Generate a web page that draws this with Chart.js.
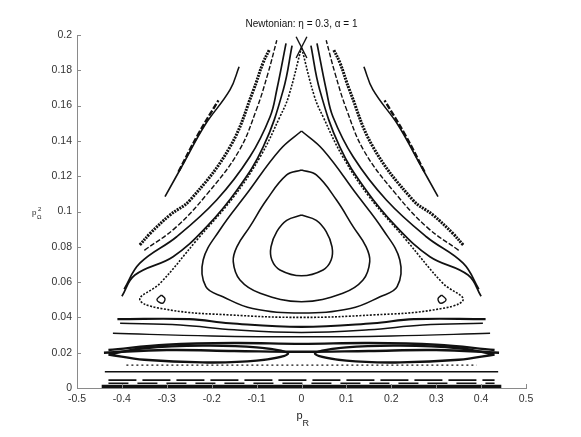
<!DOCTYPE html>
<html>
<head>
<meta charset="utf-8">
<script src="https://cdn.jsdelivr.net/npm/chart.js@4.4.1/dist/chart.umd.min.js"></script>
<style>
  html, body { margin: 0; padding: 0; background: #fff; }
  canvas { display: block; }
</style>
</head>
<body>
<canvas id="chart" width="581" height="437"></canvas>
<script>
// axis ticks
const xTicks = [-0.5, -0.4, -0.3, -0.2, -0.1, 0, 0.1, 0.2, 0.3, 0.4, 0.5];
const yTicks = [0, 0.02, 0.04, 0.06, 0.08, 0.1, 0.12, 0.14, 0.16, 0.18, 0.2];

// closed orbits around the centre (pR, pOmega^2)
const loop1 = [[0, 0.098], [-0.033, 0.095], [-0.055, 0.0886], [-0.068, 0.080], [-0.066, 0.0725], [-0.048, 0.0669], [0, 0.0636],
  [0.048, 0.0669], [0.066, 0.0725], [0.068, 0.080], [0.055, 0.0886], [0.033, 0.095], [0, 0.098]];
const loop2 = [[0, 0.1235], [-0.033, 0.1207], [-0.078, 0.1065], [-0.115, 0.0914], [-0.144, 0.080], [-0.152, 0.0716], [-0.137, 0.0612], [-0.092, 0.0537], [0, 0.0489],
  [0.092, 0.0537], [0.137, 0.0612], [0.152, 0.0716], [0.144, 0.080], [0.115, 0.0914], [0.078, 0.1065], [0.033, 0.1207], [0, 0.1235]];
const loop3 = [[0, 0.1456], [-0.048, 0.135], [-0.122, 0.110], [-0.182, 0.0895], [-0.219, 0.0725], [-0.213, 0.0574], [-0.175, 0.0517], [-0.109, 0.045], [0, 0.0425],
  [0.109, 0.045], [0.175, 0.0517], [0.213, 0.0574], [0.219, 0.0725], [0.182, 0.0895], [0.122, 0.110], [0.048, 0.135], [0, 0.1456]];
const loop4 = [[0, 0.193], [-0.029, 0.165], [-0.048, 0.1537], [-0.092, 0.131], [-0.152, 0.108], [-0.233, 0.0839], [-0.315, 0.0593], [-0.36, 0.0499], [-0.293, 0.0442], [-0.159, 0.0414], [0, 0.040],
  [0.159, 0.0414], [0.293, 0.0442], [0.36, 0.0499], [0.315, 0.0593], [0.233, 0.0839], [0.152, 0.108], [0.092, 0.131], [0.048, 0.1537], [0.029, 0.165], [0, 0.193]];

// chaotic arcs outside the triangle, left and right
const arc1L = [[-0.274, 0.1225], [-0.231, 0.1433], [-0.185, 0.163]];
const arc1R = [[0.274, 0.1225], [0.231, 0.1433], [0.185, 0.163]];
const arc2L = [[-0.304, 0.1084], [-0.259, 0.129], [-0.215, 0.149], [-0.159, 0.169], [-0.139, 0.182]];
const arc2R = [[0.304, 0.1084], [0.259, 0.129], [0.215, 0.149], [0.159, 0.169], [0.139, 0.182]];
const arc3L = [[-0.36, 0.081], [-0.337, 0.0876], [-0.293, 0.098], [-0.248, 0.1065], [-0.159, 0.1367], [-0.107, 0.1688], [-0.086, 0.184], [-0.072, 0.1915]];
const arc3R = [[0.36, 0.081], [0.337, 0.0876], [0.293, 0.098], [0.248, 0.1065], [0.159, 0.1367], [0.107, 0.1688], [0.086, 0.184], [0.072, 0.1915]];
const arc35L = [[-0.35, 0.078], [-0.28, 0.091], [-0.21, 0.110], [-0.14, 0.134], [-0.1, 0.158], [-0.075, 0.178], [-0.055, 0.197]];
const arc35R = [[0.35, 0.078], [0.28, 0.091], [0.21, 0.110], [0.14, 0.134], [0.1, 0.158], [0.075, 0.178], [0.055, 0.197]];
const arc4L = [[-0.395, 0.056], [-0.360, 0.0707], [-0.278, 0.0857], [-0.189, 0.1065], [-0.115, 0.131], [-0.070, 0.1537], [-0.055, 0.169], [-0.0345, 0.1953]];
const arc4R = [[0.395, 0.056], [0.360, 0.0707], [0.278, 0.0857], [0.189, 0.1065], [0.115, 0.131], [0.070, 0.1537], [0.055, 0.169], [0.0345, 0.1953]];
const arc5L = [[-0.40, 0.052], [-0.371, 0.064], [-0.286, 0.0744], [-0.211, 0.0914], [-0.144, 0.112], [-0.085, 0.1367], [-0.0405, 0.169], [-0.021, 0.194]];
const arc5R = [[0.40, 0.052], [0.371, 0.064], [0.286, 0.0744], [0.211, 0.0914], [0.144, 0.112], [0.085, 0.1367], [0.0405, 0.169], [0.021, 0.194]];

// crossing mark at the apex
const apexA = [[-0.012, 0.199], [0.012, 0.187]];
const apexB = [[0.012, 0.199], [-0.012, 0.187]];

// small islands near the corners
const islandL = [[-0.312, 0.0527], [-0.304, 0.0505], [-0.310, 0.048], [-0.322, 0.050], [-0.312, 0.0527]];
const islandR = [[0.312, 0.0527], [0.304, 0.0505], [0.310, 0.048], [0.322, 0.050], [0.312, 0.0527]];

// bands along the bottom
const base1 = [[-0.41, 0.039], [-0.25, 0.039], [-0.16, 0.0367], [0, 0.0346], [0.16, 0.0367], [0.25, 0.039], [0.41, 0.039]];
const base2 = [[-0.404, 0.0367], [-0.27, 0.0357], [-0.15, 0.033], [0, 0.0315], [0.15, 0.033], [0.27, 0.0357], [0.404, 0.0367]];
const base3 = [[-0.42, 0.031], [-0.2, 0.0295], [0, 0.029], [0.2, 0.0295], [0.42, 0.031]];
const band1 = [[-0.43, 0.0215], [-0.3, 0.0245], [-0.15, 0.0255], [0, 0.025], [0.15, 0.0255], [0.3, 0.0245], [0.43, 0.0215]];
const band2 = [[-0.44, 0.020], [-0.3, 0.0215], [-0.15, 0.021], [0, 0.0205], [0.15, 0.021], [0.3, 0.0215], [0.44, 0.020]];
const lensL = [[-0.43, 0.019], [-0.35, 0.0225], [-0.22, 0.024], [-0.1, 0.023], [-0.03, 0.0195], [-0.1, 0.0155], [-0.22, 0.0145], [-0.35, 0.016], [-0.43, 0.019]];
const lensR = [[0.43, 0.019], [0.35, 0.0225], [0.22, 0.024], [0.1, 0.023], [0.03, 0.0195], [0.1, 0.0155], [0.22, 0.0145], [0.35, 0.016], [0.43, 0.019]];
const dotLine = [[-0.39, 0.013], [0, 0.013], [0.39, 0.013]];
const line1 = [[-0.438, 0.0092], [0, 0.0092], [0.438, 0.0092]];
const dash1 = [[-0.43, 0.0045], [0, 0.0045], [0.43, 0.0045]];
const dash2 = [[-0.43, 0.0027], [0, 0.0027], [0.43, 0.0027]];
const floorLine = [[-0.445, 0.0008], [0, 0.0008], [0.445, 0.0008]];

function toPts(arr) {
  return arr.map(p => ({ x: p[0], y: p[1] }));
}

function curve(arr, width, dash, tension) {
  return {
    data: toPts(arr),
    showLine: true,
    borderColor: '#111',
    borderWidth: width,
    borderDash: dash || [],
    pointRadius: 0,
    tension: tension === undefined ? 0.4 : tension
  };
}

const datasets = [
  curve(loop1, 1.6), curve(loop2, 1.6), curve(loop3, 1.6), curve(loop4, 1.6, [2, 1.5]),
  curve(arc1L, 2.4, [6, 2]), curve(arc1R, 2.4, [6, 2]),
  curve(arc2L, 1.6), curve(arc2R, 1.6),
  curve(arc3L, 3, [2, 1]), curve(arc3R, 3, [2, 1]),
  curve(arc35L, 1.4, [5, 2]), curve(arc35R, 1.4, [5, 2]),
  curve(arc4L, 1.7), curve(arc4R, 1.7),
  curve(arc5L, 1.7), curve(arc5R, 1.7),
  curve(apexA, 1.4, [], 0), curve(apexB, 1.4, [], 0),
  curve(islandL, 1.4), curve(islandR, 1.4),
  curve(base1, 2.2), curve(base2, 1.5), curve(base3, 1.4),
  curve(band1, 2.4), curve(band2, 2.4), curve(lensL, 2.4), curve(lensR, 2.4),
  curve(dotLine, 1.3, [2, 3], 0), curve(line1, 1.6, [], 0),
  curve(dash1, 1.7, [28, 6], 0), curve(dash2, 1.7, [20, 9], 0),
  curve(floorLine, 3.5, [], 0)
];

const FONT = '"Liberation Sans", Arial, sans-serif';

// tick marks drawn inside the axes, and the axis labels
const decor = {
  id: 'decor',
  afterDraw(chart) {
    const ctx = chart.ctx;
    const xs = chart.scales.x, ys = chart.scales.y, a = chart.chartArea;
    ctx.save();
    ctx.strokeStyle = '#8a8a8a';
    ctx.lineWidth = 1;
    xTicks.forEach(v => {
      const px = Math.round(xs.getPixelForValue(v)) + 0.5;
      ctx.beginPath(); ctx.moveTo(px, a.bottom); ctx.lineTo(px, a.bottom - 4); ctx.stroke();
    });
    yTicks.forEach(v => {
      const py = Math.round(ys.getPixelForValue(v)) + 0.5;
      ctx.beginPath(); ctx.moveTo(a.left, py); ctx.lineTo(a.left + 4, py); ctx.stroke();
    });

    ctx.fillStyle = '#222';
    ctx.textBaseline = 'alphabetic';
    ctx.textAlign = 'left';
    const cx = (a.left + a.right) / 2;
    ctx.font = '11px ' + FONT;
    ctx.fillText('p', cx - 5, 419);
    ctx.font = '9px ' + FONT;
    ctx.fillText('R', cx + 1, 426);

    ctx.font = '8px ' + FONT;
    ctx.fillText('p', 32, 215);
    ctx.font = '6px ' + FONT;
    ctx.fillText('2', 38, 211);
    ctx.fillText('Ω', 37, 219);
    ctx.restore();
  }
};

new Chart(document.getElementById('chart'), {
  type: 'scatter',
  data: { datasets: datasets },
  plugins: [decor],
  options: {
    responsive: false,
    animation: false,
    devicePixelRatio: 1,
    layout: { padding: { left: 0, right: 55, top: 0, bottom: 0 } },
    plugins: {
      legend: { display: false },
      tooltip: { enabled: false },
      title: {
        display: true,
        text: 'Newtonian: η = 0.3, α = 1',
        fullSize: false,
        color: '#111',
        font: { family: FONT, size: 10, weight: 'normal' },
        padding: { top: 18, bottom: 5 }
      }
    },
    scales: {
      x: {
        type: 'linear',
        min: -0.5, max: 0.5,
        afterBuildTicks: s => { s.ticks = xTicks.map(v => ({ value: v })); },
        afterFit: s => { s.height = 49; },
        grid: { display: false, drawTicks: false },
        border: { display: true, color: '#8a8a8a', width: 1 },
        ticks: {
          autoSkip: false, maxRotation: 0, padding: 5,
          color: '#333', font: { family: FONT, size: 10.5 },
          callback: v => String(v)
        }
      },
      y: {
        type: 'linear',
        min: 0, max: 0.2,
        afterBuildTicks: s => { s.ticks = yTicks.map(v => ({ value: v })); },
        afterFit: s => { s.width = 77; },
        grid: { display: false, drawTicks: false },
        border: { display: true, color: '#8a8a8a', width: 1 },
        ticks: {
          autoSkip: false, padding: 5,
          color: '#333', font: { family: FONT, size: 10.5 },
          callback: v => String(v)
        }
      }
    }
  }
});
</script>
</body>
</html>
